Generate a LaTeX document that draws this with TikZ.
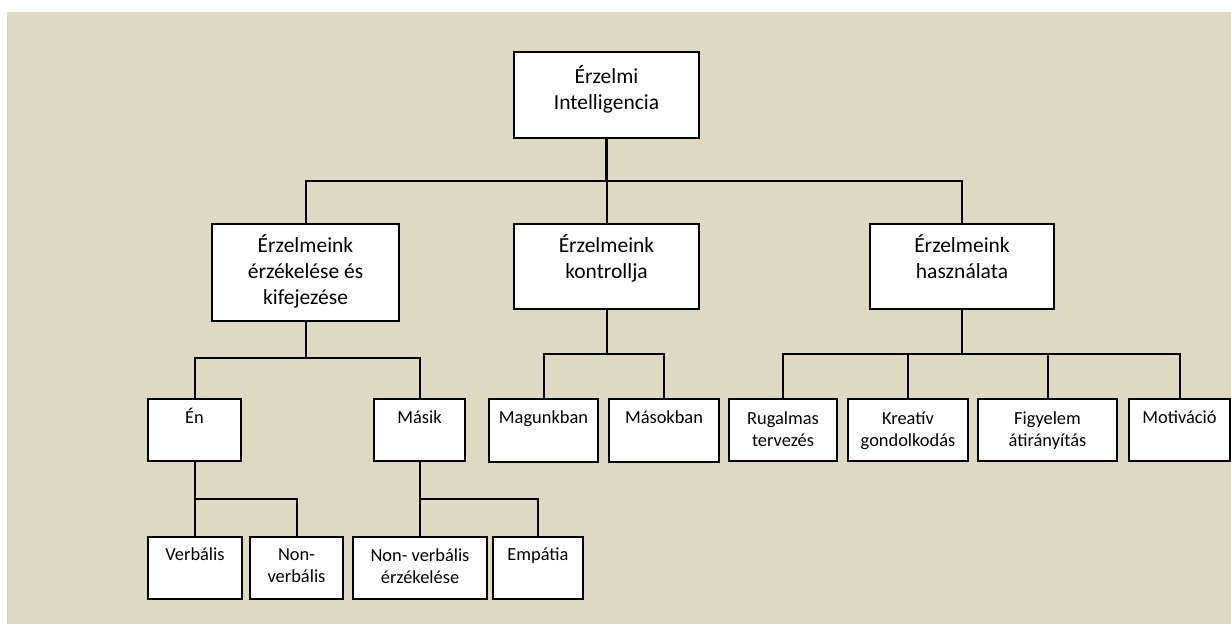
\documentclass[tikz,border=0pt]{standalone}
\usepackage{fontspec}
\setmainfont{Carlito}
\usepackage{xcolor}
\definecolor{beige}{RGB}{221,217,195}
\usetikzlibrary{positioning}
\tikzstyle{Box} = [
draw,
line width=2pt,
fill=white,
inner sep=0pt,
outer sep=0pt,
anchor=north west]
\tikzstyle{Big} = [Box, font=\fontsize{21.5}{26}\selectfont]
\tikzstyle{Small} = [Box, font=\fontsize{18.4}{22}\selectfont]
\tikzstyle{Line} = [line width=2pt]
% width, height, first baseline, text
\newcommand{\cell}[4]{\parbox[t][#2pt][t]{#1pt}{\centering\rule{0pt}{#3pt}#4}}

\begin{document}
\begin{tikzpicture}[x=1pt, y=-1pt]
    \useasboundingbox (0,0) rectangle (1231,624);
    \fill[beige] (7,12) rectangle (1231,624);

    % top and second row
    \node[Big] (1) at (514,52)  {\cell{185}{86}{31}{Érzelmi\\Intelligencia}};
    \node[Big] (2) at (212,224) {\cell{187}{97}{28}{Érzelmeink\\érzékelése és\\kifejezése}};
    \node[Big] (3) at (514,224) {\cell{185}{85}{28}{Érzelmeink\\kontrollja}};
    \node[Big] (4) at (870,224) {\cell{184}{85}{28}{Érzelmeink\\használata}};

    % third row
    \node[Small] (5)  at (148,399)  {\cell{93}{62}{24}{Én}};
    \node[Small] (6)  at (374,399)  {\cell{91}{62}{24}{Másik}};
    \node[Small] (7)  at (489,399)  {\cell{109}{63}{24}{Magunkban}};
    \node[Small] (8)  at (609,399)  {\cell{110}{63}{24}{Másokban}};
    \node[Small] (9)  at (729,399)  {\cell{108}{62}{25}{Rugalmas\\tervezés}};
    \node[Small] (10) at (848,399)  {\cell{120}{62}{25}{Kreatív\\gondolkodás}};
    \node[Small] (11) at (978,399)  {\cell{139}{62}{25}{Figyelem\\átirányítás}};
    \node[Small] (12) at (1129,399) {\cell{101}{62}{24}{Motiváció}};

    % bottom row
    \node[Small] (13) at (148,537) {\cell{94}{62}{23}{Verbális}};
    \node[Small] (14) at (250,537) {\cell{93}{62}{23}{Non-\\verbális}};
    \node[Small] (15) at (353,537) {\cell{134}{62}{24}{Non- verbális\\érzékelése}};
    \node[Small] (16) at (493,537) {\cell{90}{62}{23}{Empátia}};

    % branch points
    \path (1.south) ++(0,43) coordinate (b1);
    \path (2.south) ++(0,37) coordinate (b2);
    \path (3.south) ++(0,45) coordinate (b3);
    \path (4.south) ++(0,45) coordinate (b4);
    \path (5.south) ++(0,38) coordinate (b5);
    \path (6.south) ++(0,38) coordinate (b6);

    \draw[Line, line width=2.8pt] (1.south)--(b1);
    \draw[Line] (2.north) |- (b1) -| (4.north);
    \draw[Line] (b1)--(3.north);

    \draw[Line] (2.south)--(b2);
    \draw[Line] (5.north) |- (b2) -| (6.north);

    \draw[Line] (3.south)--(b3);
    \draw[Line] (7.north) |- (b3) -| (8.north);

    \draw[Line, line width=2.8pt] (4.south)--(b4);
    \draw[Line] (9.north) |- (b4) -| (12.north);
    \draw[Line] (10.north)--(10.north |- b4);
    \draw[Line] (11.north)--(11.north |- b4);

    \draw[Line] (5.south)--(b5);
    \draw[Line] (13.north)--(13.north |- b5) -| (14.north);

    \draw[Line] (6.south)--(b6);
    \draw[Line] (15.north)--(15.north |- b6) -| (16.north);
\end{tikzpicture}
\end{document}
